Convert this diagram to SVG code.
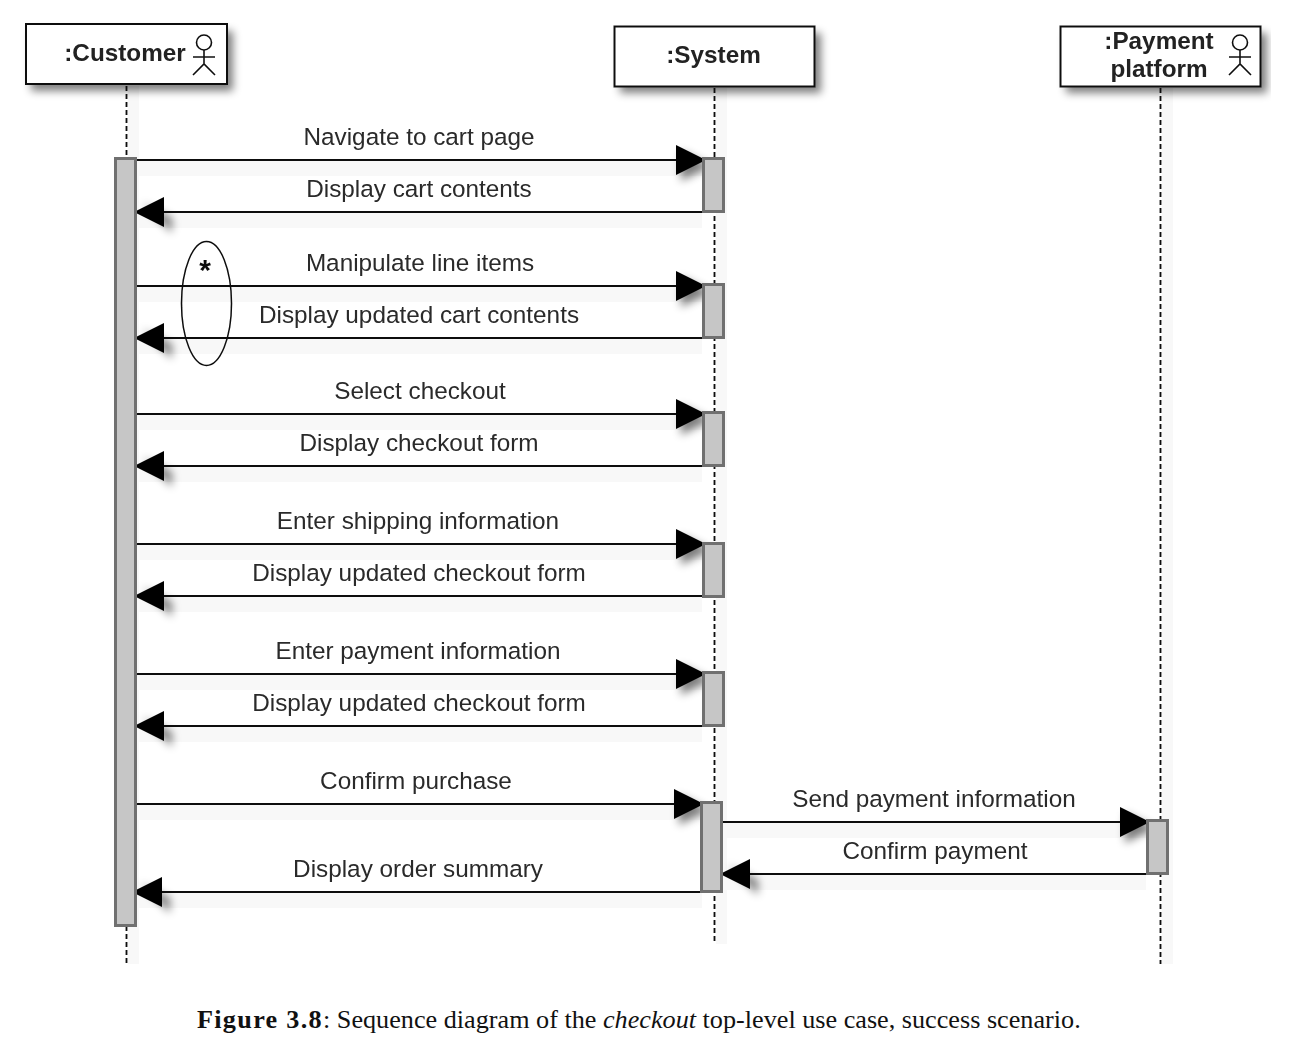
<svg xmlns="http://www.w3.org/2000/svg" width="1296" height="1053" viewBox="0 0 1296 1053">
<style>
.l{font-family:"Liberation Sans",Arial,sans-serif;font-size:24.300px;fill:#2a2a2a;text-anchor:middle}
.n{font-family:"Liberation Sans",Arial,sans-serif;font-size:24.300px;font-weight:bold;fill:#222;text-anchor:middle}
.box{fill:#fff;stroke:#111;stroke-width:2}
.act{fill:#c6c6c6;stroke:#707070;stroke-width:3}
.life{stroke:#111;stroke-width:1.800;stroke-dasharray:5 3;fill:none}
.msg{stroke:#111;stroke-width:2;fill:none}
.fig{fill:none;stroke:#111;stroke-width:1.600}
.sh{fill:#000}
.band{fill:#f8f8f8}
.cap{font-family:"Liberation Serif",serif;font-size:26.200px;fill:#111}
</style>
<defs>
<filter id="blur" x="-30%" y="-30%" width="160%" height="160%"><feGaussianBlur stdDeviation="4.500"/></filter>
<filter id="soft" x="-2%" y="-2%" width="104%" height="104%"><feGaussianBlur stdDeviation="0.350"/></filter>
<marker id="ah" markerUnits="userSpaceOnUse" markerWidth="30" markerHeight="30" refX="30" refY="15" orient="auto"><path d="M0,0 L30,15 L0,30 Z" fill="#000"/></marker>
<g id="actor" class="fig"><circle cx="0" cy="-10.500" r="7.500"/><path d="M0,-3 V11 M-11,4 H11 M-11,22 L0,11 L11,22"/></g>
</defs>

<g id="diagram" filter="url(#soft)">
<g id="shadows">
<rect class="band" x="136" y="161" width="566" height="15"/><rect class="band" x="136" y="213" width="566" height="15"/>
<rect class="band" x="136" y="287" width="566" height="15"/><rect class="band" x="136" y="339" width="566" height="15"/>
<rect class="band" x="136" y="415" width="566" height="15"/><rect class="band" x="136" y="467" width="566" height="15"/>
<rect class="band" x="136" y="545" width="566" height="15"/><rect class="band" x="136" y="597" width="566" height="15"/>
<rect class="band" x="136" y="675" width="566" height="15"/><rect class="band" x="136" y="727" width="566" height="15"/>
<rect class="band" x="136" y="805" width="566" height="15"/><rect class="band" x="136" y="893" width="566" height="15"/>
<rect class="band" x="722" y="823" width="424" height="15"/><rect class="band" x="722" y="875" width="424" height="15"/>
<rect class="band" x="128" y="86" width="11" height="878"/><rect class="band" x="716" y="88" width="11" height="856"/><rect class="band" x="1162" y="88" width="11" height="876"/>
<g filter="url(#blur)" opacity=".5" class="sh">
<rect x="31" y="31" width="202" height="60"/><rect x="620" y="33" width="201" height="60"/><rect x="1066" y="33" width="201" height="60"/>
<path d="M681,151 L711,166 L681,181 Z M142,203 L172,218 L172,233 Z M681,277 L711,292 L681,307 Z M142,329 L172,344 L172,359 Z M681,405 L711,420 L681,435 Z M142,457 L172,472 L172,487 Z M681,535 L711,550 L681,565 Z M142,587 L172,602 L172,617 Z M681,665 L711,680 L681,695 Z M142,717 L172,732 L172,747 Z M679,795 L709,810 L679,825 Z M140,883 L170,898 L170,913 Z M1125,813 L1155,828 L1125,843 Z M728,865 L758,880 L758,895 Z"/>
</g>
</g>

<g id="connectors">
<line class="life" x1="126.500" y1="86" x2="126.500" y2="964"/>
<line class="life" x1="714.500" y1="88" x2="714.500" y2="944"/>
<line class="life" x1="1160.500" y1="88" x2="1160.500" y2="964"/>
<line class="msg" x1="136" y1="160" x2="706" y2="160" marker-end="url(#ah)"/>
<line class="msg" x1="702" y1="212" x2="134" y2="212" marker-end="url(#ah)"/>
<line class="msg" x1="136" y1="286" x2="706" y2="286" marker-end="url(#ah)"/>
<line class="msg" x1="702" y1="338" x2="134" y2="338" marker-end="url(#ah)"/>
<line class="msg" x1="136" y1="414" x2="706" y2="414" marker-end="url(#ah)"/>
<line class="msg" x1="702" y1="466" x2="134" y2="466" marker-end="url(#ah)"/>
<line class="msg" x1="136" y1="544" x2="706" y2="544" marker-end="url(#ah)"/>
<line class="msg" x1="702" y1="596" x2="134" y2="596" marker-end="url(#ah)"/>
<line class="msg" x1="136" y1="674" x2="706" y2="674" marker-end="url(#ah)"/>
<line class="msg" x1="702" y1="726" x2="134" y2="726" marker-end="url(#ah)"/>
<line class="msg" x1="136" y1="804" x2="704" y2="804" marker-end="url(#ah)"/>
<line class="msg" x1="702" y1="892" x2="132" y2="892" marker-end="url(#ah)"/>
<line class="msg" x1="722" y1="822" x2="1150" y2="822" marker-end="url(#ah)"/>
<line class="msg" x1="1146" y1="874" x2="720" y2="874" marker-end="url(#ah)"/>
</g>

<g id="labels">
<text class="l" x="419" y="145">Navigate to cart page</text>
<text class="l" x="419" y="197">Display cart contents</text>
<text class="l" x="420" y="271">Manipulate line items</text>
<text class="l" x="419" y="323">Display updated cart contents</text>
<text class="l" x="420" y="399">Select checkout</text>
<text class="l" x="419" y="451">Display checkout form</text>
<text class="l" x="418" y="529">Enter shipping information</text>
<text class="l" x="419" y="581">Display updated checkout form</text>
<text class="l" x="418" y="659">Enter payment information</text>
<text class="l" x="419" y="711">Display updated checkout form</text>
<text class="l" x="416" y="789">Confirm purchase</text>
<text class="l" x="418" y="877">Display order summary</text>
<text class="l" x="934" y="807">Send payment information</text>
<text class="l" x="935" y="859">Confirm payment</text>
</g>

<g id="customer">
<rect class="box" x="26" y="24" width="201" height="60"/>
<text class="n" x="125" y="61">:Customer</text>
<use href="#actor" x="204" y="53"/>
</g>
<g id="system">
<rect class="box" x="614.500" y="26.500" width="200" height="60"/>
<text class="n" x="713.500" y="63">:System</text>
</g>
<g id="payment">
<rect class="box" x="1060.500" y="26.500" width="200" height="60"/>
<text class="n" x="1159" y="49">:Payment</text>
<text class="n" x="1159" y="77">platform</text>
<use href="#actor" x="1240" y="53"/>
</g>
<g id="customer-activation"><rect class="act" x="115.500" y="158.500" width="20" height="767"/></g>
<g id="system-activations">
<rect class="act" x="703.500" y="158.500" width="20" height="53"/>
<rect class="act" x="703.500" y="284.500" width="20" height="53"/>
<rect class="act" x="703.500" y="412.500" width="20" height="53"/>
<rect class="act" x="703.500" y="543.500" width="20" height="53"/>
<rect class="act" x="703.500" y="672.500" width="20" height="53"/>
<rect class="act" x="701.500" y="802.500" width="20" height="89"/>
</g>
<g id="payment-activation"><rect class="act" x="1147.500" y="820.500" width="20" height="53"/></g>
<g id="loop">
<ellipse cx="206.500" cy="303.500" rx="25" ry="62" fill="none" stroke="#111" stroke-width="1.500"/>
<text x="205" y="280" font-family="Liberation Sans,Arial,sans-serif" font-size="30" font-weight="bold" fill="#111" text-anchor="middle">*</text>
</g>
</g>
<text id="caption" class="cap" x="197" y="1028"><tspan font-weight="bold" letter-spacing="1.300">Figure 3.8</tspan>: Sequence diagram of the <tspan font-style="italic">checkout</tspan> top-level use case, success scenario.</text>
</svg>
